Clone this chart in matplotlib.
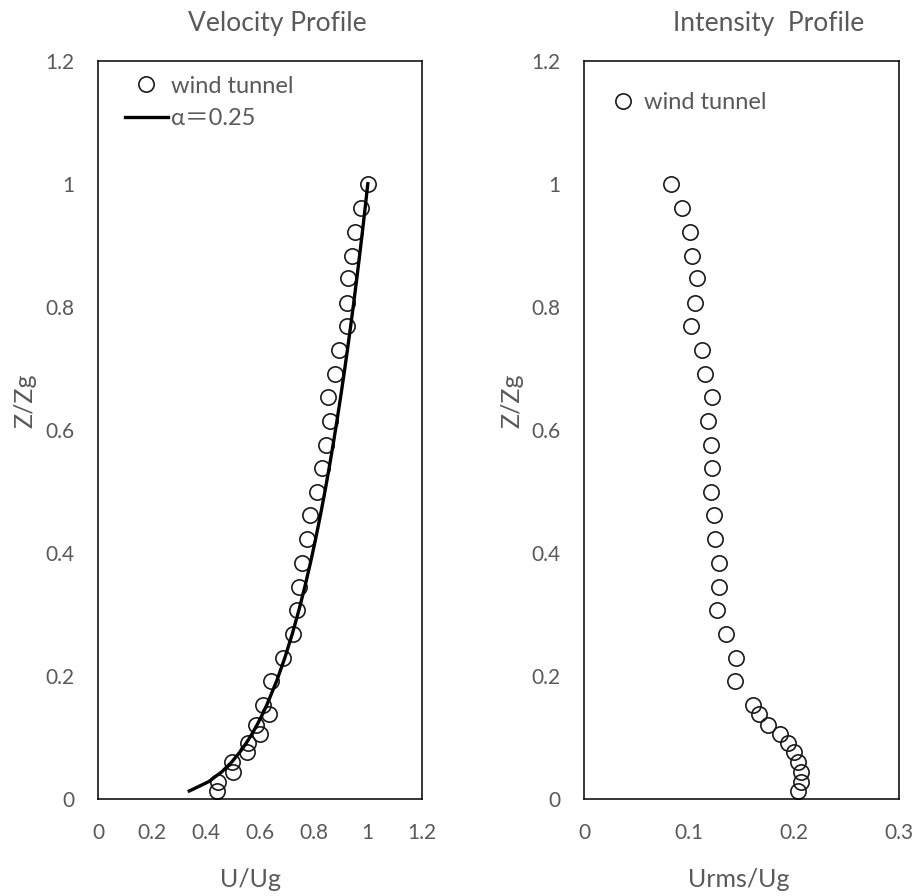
import matplotlib.pyplot as plt
import numpy as np

plt.rcParams['font.family'] = ['Lato', 'Noto Sans CJK SC', 'DejaVu Sans']

TEXT_GREY = "#595959"

# measured heights (Z/Zg), shared by both profiles
z_height = [1.000, 0.960, 0.922, 0.883, 0.846, 0.806, 0.768, 0.729,
            0.691, 0.653, 0.614, 0.576, 0.538, 0.499, 0.461, 0.422,
            0.384, 0.345, 0.307, 0.268, 0.229, 0.192, 0.153, 0.138,
            0.121, 0.106, 0.091, 0.076, 0.060, 0.044, 0.028, 0.013]

# mean velocity U/Ug from the wind tunnel
u_mean = [1.000, 0.974, 0.953, 0.941, 0.928, 0.922, 0.924, 0.894,
          0.878, 0.851, 0.860, 0.844, 0.831, 0.810, 0.787, 0.776,
          0.756, 0.746, 0.737, 0.721, 0.684, 0.641, 0.612, 0.632,
          0.585, 0.601, 0.555, 0.550, 0.497, 0.499, 0.445, 0.439]

# turbulence intensity Urms/Ug from the wind tunnel
u_rms = [0.083, 0.093, 0.101, 0.103, 0.108, 0.106, 0.102, 0.112,
         0.115, 0.122, 0.118, 0.121, 0.122, 0.121, 0.124, 0.125,
         0.129, 0.129, 0.127, 0.135, 0.145, 0.144, 0.161, 0.167,
         0.175, 0.187, 0.194, 0.200, 0.204, 0.207, 0.207, 0.204]

# power law exponent
alpha = 0.25

x_ticks_left = [0, 0.2, 0.4, 0.6, 0.8, 1, 1.2]
x_ticks_right = [0, 0.1, 0.2, 0.3]
y_ticks = [0, 0.2, 0.4, 0.6, 0.8, 1, 1.2]

fig = plt.figure(figsize=(9.17, 8.96), dpi=100)
ax1 = fig.add_axes([0.1072, 0.1083, 0.3527, 0.824])
ax2 = fig.add_axes([0.6369, 0.1083, 0.3432, 0.824])

marker_style = dict(linestyle="none", marker="o", markersize=11,
                    markerfacecolor="none", markeredgecolor="#1a1a1a",
                    markeredgewidth=1.2)

# velocity profile with power law curve
z_arr = np.array(z_height)
ax1.plot(u_mean, z_height, label="wind tunnel", **marker_style)
ax1.plot(z_arr ** alpha, z_arr, color="black", linewidth=2.4,
         label="α＝0.25")

# intensity profile
ax2.plot(u_rms, z_height, label="wind tunnel", **marker_style)


def style_axes(ax, xticks, xmax):
    ax.set_xlim(0, xmax)
    ax.set_ylim(0, 1.2)
    ax.set_xticks(xticks)
    ax.set_yticks(y_ticks)
    ax.set_xticklabels([f"{t:g}" for t in xticks])
    ax.set_yticklabels([f"{t:g}" for t in y_ticks])
    ax.tick_params(length=0, labelsize=15, labelcolor=TEXT_GREY)
    ax.tick_params(axis="x", pad=17)
    ax.tick_params(axis="y", pad=17)
    for spine in ax.spines.values():
        spine.set_linewidth(1.1)
        spine.set_color("black")


style_axes(ax1, x_ticks_left, 1.2)
style_axes(ax2, x_ticks_right, 0.3)

ax1.set_xlabel("U/Ug", fontsize=18, color=TEXT_GREY, va="top")
ax1.xaxis.set_label_coords(0.472, -0.0935)
ax1.set_ylabel("Z/Zg", fontsize=18, color=TEXT_GREY)
ax1.yaxis.set_label_coords(-0.19, 0.539)

ax2.set_xlabel("Urms/Ug", fontsize=18, color=TEXT_GREY, va="top")
ax2.xaxis.set_label_coords(0.4925, -0.0935)
ax2.set_ylabel("Z/Zg", fontsize=18, color=TEXT_GREY)
ax2.yaxis.set_label_coords(-0.194, 0.539)

fig.text(277.5 / 917, 1 - 24 / 896, "Velocity Profile", fontsize=19,
         color=TEXT_GREY, ha="center", va="center")
fig.text(768.5 / 917, 1 - 24 / 896, "Intensity  Profile", fontsize=19,
         color=TEXT_GREY, ha="center", va="center")

leg1 = ax1.legend(loc="upper left", bbox_to_anchor=(0.039, 0.999),
                  frameon=False, fontsize=17, handlelength=1.8,
                  handletextpad=0.15, labelspacing=0.48, borderaxespad=0.2)
for t in leg1.get_texts():
    t.set_color(TEXT_GREY)

leg2 = ax2.legend(loc="upper left", bbox_to_anchor=(0.049, 0.977),
                  frameon=False, fontsize=17, handlelength=0.8,
                  handletextpad=0.5, borderaxespad=0.2)
for t in leg2.get_texts():
    t.set_color(TEXT_GREY)

fig.savefig("out.png", dpi=100)
